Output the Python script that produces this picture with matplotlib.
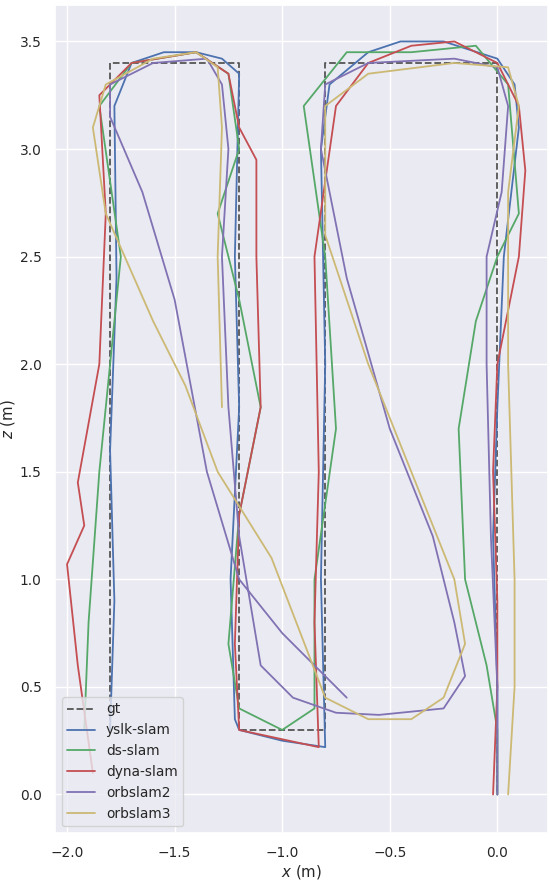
import matplotlib
matplotlib.use("Agg")
import matplotlib.pyplot as plt
import seaborn as sns

sns.set_theme(style="darkgrid", font_scale=0.9)

gt_x = [-1.8, -1.8, -1.2, -1.2, -0.8, -0.8, 0.0, 0.0]
gt_z = [0.3, 3.4, 3.4, 0.3, 0.3, 3.4, 3.4, 0.0]

yslk_x = [-1.8, -1.78, -1.8, -1.77, -1.78, -1.7, -1.55, -1.4, -1.28, -1.2, -1.22, -1.2, -1.24, -1.22, -1.2, -1.0, -0.8, -0.82, -0.8, -0.82, -0.78, -0.6, -0.45, -0.25, 0.0, 0.08, 0.1, 0.03, 0.0, -0.02, 0.0, 0.0]
yslk_z = [0.3, 0.9, 1.6, 2.4, 3.2, 3.4, 3.45, 3.45, 3.42, 3.35, 2.5, 1.8, 1.0, 0.35, 0.3, 0.25, 0.22, 1.0, 2.0, 3.0, 3.3, 3.45, 3.5, 3.5, 3.42, 3.3, 3.1, 2.5, 1.8, 1.2, 0.5, 0.0]

ds_x = [-1.92, -1.9, -1.85, -1.75, -1.85, -1.7, -1.4, -1.25, -1.2, -1.3, -1.2, -1.1, -1.2, -1.25, -1.2, -1.0, -0.85, -0.85, -0.75, -0.8, -0.9, -0.7, -0.4, -0.1, 0.05, 0.1, 0.0, -0.1, -0.18, -0.15, -0.05, 0.0, 0.0]
ds_z = [0.3, 0.8, 1.5, 2.5, 3.2, 3.4, 3.45, 3.35, 3.0, 2.7, 2.3, 1.8, 1.3, 0.7, 0.4, 0.3, 0.4, 1.0, 1.7, 2.5, 3.2, 3.45, 3.45, 3.48, 3.3, 2.7, 2.5, 2.2, 1.7, 1.0, 0.6, 0.3, 0.0]

dyna_x = [-1.88, -1.95, -2.0, -1.92, -1.95, -1.85, -1.82, -1.85, -1.7, -1.4, -1.25, -1.2, -1.12, -1.12, -1.1, -1.2, -1.22, -1.2, -0.83, -0.85, -0.83, -0.85, -0.75, -0.6, -0.4, -0.2, 0.0, 0.1, 0.13, 0.1, 0.0, -0.02, 0.0, 0.0, -0.02]
dyna_z = [0.1, 0.6, 1.07, 1.25, 1.45, 2.0, 2.7, 3.25, 3.4, 3.45, 3.35, 3.1, 2.95, 2.5, 1.8, 1.3, 0.7, 0.3, 0.22, 0.8, 1.5, 2.5, 3.2, 3.4, 3.48, 3.5, 3.4, 3.2, 2.9, 2.5, 2.0, 1.5, 0.9, 0.5, 0.0]

orb2_x = [-0.7, -0.85, -1.0, -1.2, -1.35, -1.5, -1.65, -1.8, -1.8, -1.6, -1.35, -1.28, -1.25, -1.28, -1.25, -1.2, -1.1, -0.95, -0.75, -0.55, -0.25, -0.15, -0.2, -0.3, -0.5, -0.7, -0.82, -0.8, -0.6, -0.2, 0.0, 0.05, 0.02, -0.05, -0.05, -0.03, 0.0, 0.0]
orb2_z = [0.45, 0.6, 0.75, 1.0, 1.5, 2.3, 2.8, 3.15, 3.3, 3.4, 3.42, 3.3, 3.0, 2.5, 1.8, 1.2, 0.6, 0.45, 0.38, 0.37, 0.4, 0.55, 0.8, 1.2, 1.7, 2.4, 3.0, 3.3, 3.4, 3.42, 3.38, 3.2, 2.8, 2.5, 2.0, 1.2, 0.5, 0.0]

orb3_x = [-1.28, -1.3, -1.28, -1.3, -1.4, -1.6, -1.82, -1.88, -1.82, -1.6, -1.45, -1.3, -1.05, -0.8, -0.6, -0.4, -0.25, -0.15, -0.2, -0.4, -0.6, -0.8, -0.8, -0.6, -0.2, 0.05, 0.1, 0.05, 0.05, 0.08, 0.08, 0.05]
orb3_z = [1.8, 2.5, 3.1, 3.38, 3.45, 3.42, 3.3, 3.1, 2.7, 2.2, 1.9, 1.5, 1.1, 0.45, 0.35, 0.35, 0.45, 0.7, 1.0, 1.5, 2.0, 2.6, 3.2, 3.35, 3.4, 3.38, 3.2, 2.8, 2.0, 1.0, 0.5, 0.0]

fig, ax = plt.subplots(figsize=(5.5, 8.85), dpi=100)
lw = 1.3
ax.plot(gt_x, gt_z, "--", color="#555555", lw=lw, label="gt")
pal = sns.color_palette()
ax.plot(yslk_x, yslk_z, color=pal[0], lw=lw, label="yslk-slam")
ax.plot(ds_x, ds_z, color=pal[2], lw=lw, label="ds-slam")
ax.plot(dyna_x, dyna_z, color=pal[3], lw=lw, label="dyna-slam")
ax.plot(orb2_x, orb2_z, color=pal[4], lw=lw, label="orbslam2")
ax.plot(orb3_x, orb3_z, color=pal[8], lw=lw, label="orbslam3")
ax.set_aspect("equal")
ax.set_xlim(-2.056, 0.237)
ax.set_ylim(-0.18, 3.67)
ax.set_xticks([-2.0, -1.5, -1.0, -0.5, 0.0])
ax.set_yticks([0.0, 0.5, 1.0, 1.5, 2.0, 2.5, 3.0, 3.5])
ax.set_xlabel("$x$ (m)", labelpad=2)
ax.set_ylabel("$z$ (m)", labelpad=2)
ax.legend(loc="lower left")
fig.subplots_adjust(left=0.1, right=0.997, bottom=0.058, top=0.995)
fig.savefig("out.png")
